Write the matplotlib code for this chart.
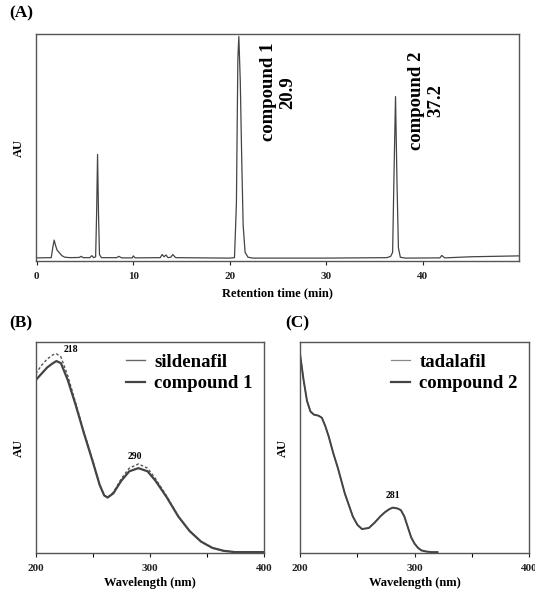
import matplotlib
matplotlib.use("Agg")
import matplotlib.pyplot as plt
from matplotlib.lines import Line2D
from matplotlib.ticker import FixedLocator

plt.rcParams["font.family"] = ["Liberation Serif", "DejaVu Serif"]
plt.rcParams["font.weight"] = "bold"

# (A) HPLC chromatogram (min, relative AU)
rt_min = [0.0, 1.5, 1.65, 1.8, 1.95, 2.1, 2.3, 2.6, 2.9, 3.5, 4.4, 4.6, 4.8,
          5.5, 5.7, 5.9, 6.1, 6.2, 6.3, 6.4, 6.5, 6.7, 8.3, 8.5, 8.8, 9.9,
          10.0, 10.2, 12.8, 13.0, 13.2, 13.4, 13.6, 13.9, 14.1, 14.4, 20.0,
          20.5, 20.7, 20.85, 20.95, 21.1, 21.25, 21.4, 21.6, 21.9, 22.4, 30.0,
          36.3, 36.7, 36.9, 37.05, 37.2, 37.35, 37.5, 37.7, 38.2, 41.8, 42.0,
          42.3, 45.0, 50.0]
au_a = [0.005, 0.006, 0.05, 0.085, 0.06, 0.04, 0.03, 0.015, 0.008, 0.006,
        0.007, 0.012, 0.006, 0.006, 0.015, 0.006, 0.01, 0.2, 0.47, 0.2, 0.02,
        0.006, 0.006, 0.012, 0.005, 0.005, 0.014, 0.005, 0.006, 0.02, 0.01,
        0.018, 0.006, 0.008, 0.02, 0.006, 0.004, 0.006, 0.25, 0.9, 1.0, 0.8,
        0.45, 0.15, 0.03, 0.008, 0.004, 0.004, 0.006, 0.012, 0.03, 0.4, 0.73,
        0.35, 0.05, 0.008, 0.004, 0.005, 0.016, 0.005, 0.01, 0.014]

# (B) UV spectra, sildenafil vs compound 1
wl_b = [200, 205, 210, 215, 218, 222, 228, 235, 242, 250, 256, 260, 263,
        268, 275, 282, 290, 298, 305, 315, 325, 335, 345, 355, 365, 375, 400]
compound1 = [0.82, 0.85, 0.88, 0.90, 0.91, 0.90, 0.82, 0.70, 0.57, 0.43,
             0.32, 0.27, 0.26, 0.28, 0.34, 0.385, 0.40, 0.385, 0.34, 0.26,
             0.17, 0.10, 0.05, 0.02, 0.006, 0.0, 0.0]
sildenafil = [0.85, 0.89, 0.92, 0.94, 0.945, 0.93, 0.84, 0.71, 0.575, 0.435,
              0.32, 0.27, 0.26, 0.285, 0.35, 0.40, 0.42, 0.40, 0.35, 0.265,
              0.17, 0.10, 0.05, 0.02, 0.006, 0.0, 0.0]

# (C) UV spectra, tadalafil vs compound 2
wl_c = [200, 203, 206, 209, 212, 216, 219, 222, 225, 229, 233, 239, 246,
        250, 254, 260, 265, 270, 274, 278, 281, 285, 288, 291, 294, 297, 300,
        303, 306, 310, 315, 320]
compound2 = [0.94, 0.82, 0.72, 0.67, 0.655, 0.65, 0.64, 0.60, 0.55, 0.47,
             0.40, 0.28, 0.17, 0.13, 0.11, 0.115, 0.14, 0.17, 0.19, 0.205,
             0.212, 0.208, 0.20, 0.17, 0.12, 0.07, 0.04, 0.02, 0.008, 0.003,
             0.0, 0.0]
tadalafil = compound2

fig = plt.figure(figsize=(5.35, 5.91), dpi=100)
ax_a = fig.add_axes([0.067, 0.558, 0.903, 0.384])
ax_b = fig.add_axes([0.067, 0.064, 0.426, 0.357])
ax_c = fig.add_axes([0.561, 0.064, 0.428, 0.357])

line_col = "#444444"

for ax in (ax_a, ax_b, ax_c):
    for s in ax.spines.values():
        s.set_color("#555555")
        s.set_linewidth(1.0)
    ax.set_yticks([])
    ax.tick_params(axis="x", direction="out", length=3, width=0.8,
                   labelsize=8, pad=5, colors="#222222")
    ax.tick_params(axis="x", which="minor", direction="out", length=3,
                   width=0.8)

# (A)
ax_a.plot(rt_min, au_a, color=line_col, lw=0.9)
ax_a.set_xlim(-0.1, 50)
ax_a.set_ylim(-0.01, 1.01)
ax_a.set_xticks([0, 10, 20, 30, 40])
ax_a.set_xlabel("Retention time (min)", fontsize=9, fontweight="bold",
                labelpad=4)
ax_a.set_ylabel("AU", fontsize=9, fontweight="bold", labelpad=8)
ax_a.text(25.0, 0.75, "compound 1\n20.9", rotation=90, ha="center",
          va="center", multialignment="center", fontsize=13.5,
          fontweight="bold", linespacing=1.2)
ax_a.text(40.4, 0.71, "compound 2\n37.2", rotation=90, ha="center",
          va="center", multialignment="center", fontsize=13.5,
          fontweight="bold", linespacing=1.2)
fig.text(0.018, 0.978, "(A)", fontsize=12.5, fontweight="bold", va="center")

# (B)
ax_b.plot(wl_b, sildenafil, color="#555555", lw=1.0, ls=(0, (2, 1.5)))
ax_b.plot(wl_b, compound1, color=line_col, lw=1.6)
ax_b.set_xlim(200, 400)
ax_b.set_ylim(-0.005, 1.0)
ax_b.set_xticks([200, 300, 400])
ax_b.xaxis.set_minor_locator(FixedLocator([250, 350]))
ax_b.set_xlabel("Wavelength (nm)", fontsize=9, fontweight="bold", labelpad=3)
ax_b.set_ylabel("AU", fontsize=9, fontweight="bold", labelpad=8)
ax_b.text(224, 0.955, "218", fontsize=7, fontweight="bold")
ax_b.text(287, 0.445, "290", fontsize=7, fontweight="bold", ha="center")
handles_b = [Line2D([], [], color="#666666", lw=1.0),
             Line2D([], [], color=line_col, lw=1.6)]
ax_b.legend(handles_b, ["sildenafil", "compound 1"], loc="upper right",
            frameon=False, fontsize=13.5, handlelength=1.0,
            handletextpad=0.5, borderaxespad=0.2, labelspacing=0.25)
fig.text(0.018, 0.453, "(B)", fontsize=12.5, fontweight="bold", va="center")

# (C)
ax_c.plot(wl_c, tadalafil, color="#777777", lw=0.9)
ax_c.plot(wl_c, compound2, color=line_col, lw=1.4)
ax_c.set_xlim(200, 400)
ax_c.set_ylim(-0.005, 1.0)
ax_c.set_xticks([200, 300, 400])
ax_c.xaxis.set_minor_locator(FixedLocator([250, 350]))
ax_c.set_xlabel("Wavelength (nm)", fontsize=9, fontweight="bold", labelpad=3)
ax_c.set_ylabel("AU", fontsize=9, fontweight="bold", labelpad=8)
ax_c.text(281, 0.26, "281", fontsize=7, fontweight="bold", ha="center")
handles_c = [Line2D([], [], color="#888888", lw=0.9),
             Line2D([], [], color=line_col, lw=1.6)]
ax_c.legend(handles_c, ["tadalafil", "compound 2"], loc="upper right",
            frameon=False, fontsize=13.5, handlelength=1.0,
            handletextpad=0.5, borderaxespad=0.2, labelspacing=0.25)
fig.text(0.533, 0.453, "(C)", fontsize=12.5, fontweight="bold", va="center")

fig.savefig("out.png", dpi=100)
